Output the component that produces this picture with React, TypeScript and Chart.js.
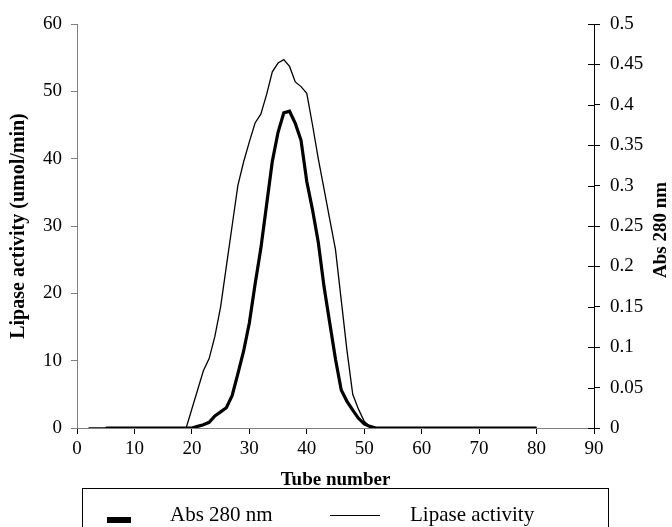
import React, { useEffect, useRef } from "react";
import { Chart, registerables } from "chart.js";

Chart.register(...registerables);

const xTitle = "Tube number";
const leftTitle = "Lipase activity (umol/min)";
const rightTitle = "Abs 280 nm";

const lipaseLabel = "Lipase activity";
const absLabel = "Abs 280 nm";

const lipaseTubes = [2, 5, 10, 15, 19, 22, 23, 24, 25, 26, 27, 28, 29, 30, 31, 32, 33, 34, 35, 36, 37, 38, 39, 40, 41, 42, 43, 44, 45, 46, 47, 48, 49, 50, 51, 52, 55, 60, 65, 70, 75, 80];
const lipaseActivity = [0, 0, 0, 0, 0, 8.5, 10.3, 13.6, 18, 24, 30, 36, 39.5, 42.5, 45.3, 46.6, 49.5, 52.9, 54.2, 54.7, 53.7, 51.4, 50.7, 49.7, 45, 40, 35.5, 31, 26.5, 19, 11.5, 5, 2.8, 1, 0.2, 0, 0, 0, 0, 0, 0, 0];

const absTubes = [5, 10, 15, 20, 21, 22, 23, 24, 25, 26, 27, 28, 29, 30, 31, 32, 33, 34, 35, 36, 37, 38, 39, 40, 41, 42, 43, 44, 45, 46, 47, 48, 49, 50, 51, 52, 55, 60, 65, 70, 75, 80];
const absValues = [0, 0, 0, 0, 0.002, 0.004, 0.007, 0.015, 0.02, 0.025, 0.04, 0.067, 0.095, 0.13, 0.178, 0.222, 0.276, 0.33, 0.366, 0.39, 0.392, 0.377, 0.356, 0.305, 0.27, 0.23, 0.175, 0.13, 0.085, 0.047, 0.033, 0.022, 0.012, 0.005, 0.002, 0, 0, 0, 0, 0, 0, 0];

const xTickStep = 10;
const leftTickStep = 10;
const rightTickStep = 0.05;

const SERIF = '"Liberation Serif", "Times New Roman", serif';

const customPlugin = {
  id: "customDecor",
  afterDraw(chart: any) {
    const ctx = chart.ctx as CanvasRenderingContext2D;
    const y2 = chart.scales.y2;
    const area = chart.chartArea;
    ctx.save();
    // inward half of the crossing ticks on right axis
    ctx.strokeStyle = "#000";
    ctx.lineWidth = 1;
    y2.ticks.forEach((t: any) => {
      const py = Math.round(y2.getPixelForValue(t.value)) + 0.5;
      ctx.beginPath();
      ctx.moveTo(area.right - 6, py);
      ctx.lineTo(area.right, py);
      ctx.stroke();
    });
    ctx.restore();

    // right axis title (reads bottom to top)
    ctx.save();
    ctx.translate(661, (area.top + area.bottom) / 2 + 4);
    ctx.rotate(-Math.PI / 2);
    ctx.font = `bold 19px ${SERIF}`;
    ctx.fillStyle = "#000";
    ctx.textAlign = "center";
    ctx.textBaseline = "middle";
    ctx.fillText(rightTitle, 0, 0);
    ctx.restore();

    // legend box
    ctx.save();
    ctx.strokeStyle = "#000";
    ctx.lineWidth = 1;
    ctx.strokeRect(82.5, 488.5, 526, 60);
    const ds = chart.data.datasets;
    ctx.font = `21px ${SERIF}`;
    ctx.fillStyle = "#000";
    ctx.textBaseline = "alphabetic";
    ctx.textAlign = "left";
    // item 1: thick series, drawn as filled block
    ctx.fillRect(107, 517, 24, 6);
    ctx.fillText(ds[0].label, 170, 521);
    // item 2: thin series, drawn as line
    ctx.beginPath();
    ctx.moveTo(330, 515.5);
    ctx.lineTo(380, 515.5);
    ctx.stroke();
    ctx.fillText(ds[1].label, 410, 521);
    ctx.restore();
  },
};

export default function App() {
  const ref = useRef<HTMLCanvasElement | null>(null);

  useEffect(() => {
    if (!ref.current) return;
    document.body.style.margin = "0";
    const chart = new Chart(ref.current, {
      type: "line",
      data: {
        datasets: [
          {
            label: absLabel,
            data: absTubes.map((x, i) => ({ x, y: absValues[i] })),
            yAxisID: "y2",
            borderColor: "#000",
            borderWidth: 3.2,
            pointRadius: 0,
            tension: 0,
            fill: false,
          },
          {
            label: lipaseLabel,
            data: lipaseTubes.map((x, i) => ({ x, y: lipaseActivity[i] })),
            yAxisID: "y",
            borderColor: "#000",
            borderWidth: 1.3,
            pointRadius: 0,
            tension: 0,
            fill: false,
          },
        ],
      },
      options: {
        animation: false,
        responsive: false,
        maintainAspectRatio: false,
        layout: { padding: { top: 24, left: 0, right: 0, bottom: 36 } },
        plugins: {
          legend: { display: false },
          tooltip: { enabled: false },
        },
        scales: {
          x: {
            type: "linear",
            min: 0,
            max: 90,
            ticks: {
              stepSize: xTickStep,
              color: "#000",
              font: { family: SERIF, size: 19 },
              padding: 4,
              maxRotation: 0,
            },
            grid: { display: true, drawOnChartArea: false, tickLength: 6, color: "#000" },
            border: { display: true, color: "#808080", width: 1 },
            title: {
              display: true,
              text: xTitle,
              color: "#000",
              font: { family: SERIF, size: 19, weight: "bold" },
              padding: { top: 0, bottom: 0 },
            },
            afterFit: (s: any) => {
              s.height = 63;
            },
          },
          y: {
            type: "linear",
            position: "left",
            min: 0,
            max: 60,
            ticks: {
              stepSize: leftTickStep,
              color: "#000",
              font: { family: SERIF, size: 19 },
              padding: 9,
            },
            grid: { display: true, drawOnChartArea: false, tickLength: 6, color: "#808080" },
            border: { display: true, color: "#808080", width: 1 },
            title: {
              display: true,
              text: leftTitle,
              color: "#000",
              font: { family: SERIF, size: 20, weight: "bold" },
              padding: { top: 7, bottom: 0 },
            },
            afterFit: (s: any) => {
              s.width = 77;
            },
          },
          y2: {
            type: "linear",
            position: "right",
            min: 0,
            max: 0.5,
            ticks: {
              stepSize: rightTickStep,
              color: "#000",
              font: { family: SERIF, size: 19 },
              padding: 10,
              callback: (v: any) => String(Number(Number(v).toFixed(2))),
            },
            grid: { display: true, drawOnChartArea: false, tickLength: 6, color: "#000" },
            border: { display: true, color: "#000", width: 1 },
            title: { display: false },
            afterFit: (s: any) => {
              s.width = 78;
            },
          },
        },
      },
      plugins: [customPlugin],
    } as any);
    return () => chart.destroy();
  }, []);

  return (
    <div style={{ position: "absolute", left: 0, top: 0, width: 672, height: 527 }}>
      <canvas ref={ref} width={672} height={527} style={{ display: "block", width: 672, height: 527 }} />
    </div>
  );
}
